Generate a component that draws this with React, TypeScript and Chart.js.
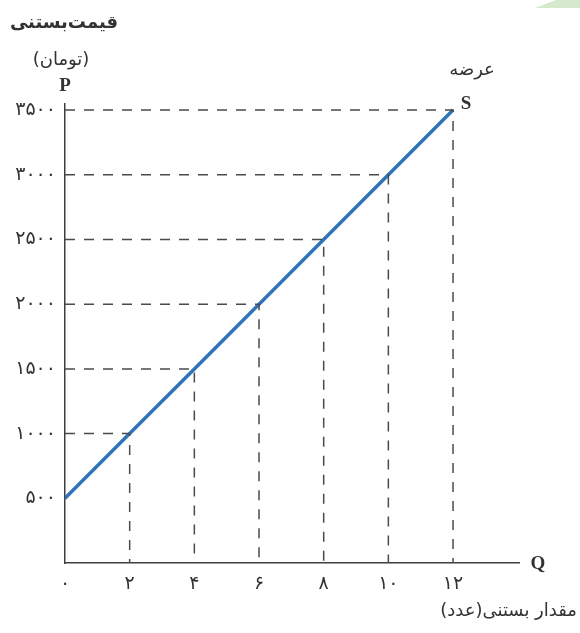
import React, { useEffect, useRef } from "react";
import { Chart, registerables } from "chart.js";

Chart.register(...registerables);

const quantities = [0, 2, 4, 6, 8, 10, 12];
const prices = [500, 1000, 1500, 2000, 2500, 3000, 3500];
const xTickValues = [0, 2, 4, 6, 8, 10, 12];
const xTickLabels = ["۰", "۲", "۴", "۶", "۸", "۱۰", "۱۲"];
const yTickValues = [500, 1000, 1500, 2000, 2500, 3000, 3500];
const yTickLabels = ["۵۰۰", "۱۰۰۰", "۱۵۰۰", "۲۰۰۰", "۲۵۰۰", "۳۰۰۰", "۳۵۰۰"];

const yTitleLine1 = "قیمت‌بستنی";
const yTitleLine2 = "(تومان)";
const xTitle = "مقدار بستنی(عدد)";
const curveLabel = "عرضه";

const TEXT = "#333333";
const AXIS = "#3f3f3f";
const DASH = "#4a4a4a";
const BLUE = "#2e74b8";

const textPlugin = {
  id: "texts",
  afterDraw(chart: any) {
    const ctx = chart.ctx;
    const xs = chart.scales.x;
    const ys = chart.scales.y;
    ctx.save();
    // decorative corner
    ctx.fillStyle = "#d6e9cd";
    ctx.beginPath();
    ctx.moveTo(535, 8);
    ctx.lineTo(556, 0);
    ctx.lineTo(580, 0);
    ctx.lineTo(580, 8);
    ctx.closePath();
    ctx.fill();

    ctx.fillStyle = TEXT;
    ctx.textAlign = "center";
    ctx.textBaseline = "middle";
    ctx.font = "bold 18px 'DejaVu Sans'";
    ctx.fillText(yTitleLine1, 64, 23);
    ctx.font = "18px 'DejaVu Sans'";
    ctx.fillText(yTitleLine2, 61, 60);
    ctx.font = "bold 19px 'Liberation Serif'";
    ctx.fillText("P", xs.left, 86);
    const lastQ = quantities[quantities.length - 1];
    const lastP = prices[prices.length - 1];
    ctx.fillText("S", xs.getPixelForValue(lastQ) + 13, ys.getPixelForValue(lastP) - 6);
    ctx.fillText("Q", xs.right + 19, ys.bottom + 1);
    ctx.font = "18px 'DejaVu Sans'";
    ctx.fillText(curveLabel, xs.getPixelForValue(lastQ) + 19, 70);
    ctx.textAlign = "right";
    ctx.font = "18px 'DejaVu Sans'";
    ctx.fillText(xTitle, 577, 611);
    ctx.restore();
  },
};

export default function App() {
  const ref = useRef<HTMLCanvasElement>(null);
  useEffect(() => {
    if (!ref.current) return;
    const supply = quantities.map((q, i) => ({ x: q, y: prices[i] }));
    const guides = quantities
      .map((q, i) => ({ q, p: prices[i] }))
      .filter((d) => d.q > 0)
      .map((d) => ({
        data: [
          { x: 0, y: d.p },
          { x: d.q, y: d.p },
          { x: d.q, y: 0 },
        ],
        borderColor: DASH,
        borderWidth: 1.5,
        borderDash: [10, 9],
        pointRadius: 0,
        showLine: true,
        fill: false,
      }));
    const chart = new Chart(ref.current, {
      type: "scatter",
      data: {
        datasets: [
          ...guides,
          {
            data: supply,
            borderColor: BLUE,
            borderWidth: 3.5,
            pointRadius: 0,
            showLine: true,
            fill: false,
          },
        ] as any,
      },
      options: {
        animation: false,
        responsive: false,
        layout: { padding: { left: 0, right: 61, top: 104, bottom: 0 } },
        plugins: { legend: { display: false }, tooltip: { enabled: false } },
        scales: {
          x: {
            type: "linear",
            min: 0,
            max: 14.04,
            grid: { display: false, drawTicks: false },
            border: { color: AXIS, width: 1.5 },
            afterBuildTicks: (s: any) => {
              s.ticks = xTickValues.map((v) => ({ value: v }));
            },
            afterFit: (s: any) => {
              s.height = 70;
            },
            ticks: {
              padding: 10,
              color: TEXT,
              font: { family: "'DejaVu Sans'", size: 19 },
              maxRotation: 0,
              autoSkip: false,
              callback: (v: any) => xTickLabels[xTickValues.indexOf(Number(v))] ?? "",
            },
          },
          y: {
            type: "linear",
            min: 0,
            max: 3547,
            grid: { display: false, drawTicks: false },
            border: { color: AXIS, width: 1.5 },
            afterBuildTicks: (s: any) => {
              s.ticks = yTickValues.map((v) => ({ value: v }));
            },
            afterFit: (s: any) => {
              s.width = 65;
            },
            ticks: {
              padding: 9,
              color: TEXT,
              font: { family: "'DejaVu Sans'", size: 19 },
              autoSkip: false,
              callback: (v: any) => yTickLabels[yTickValues.indexOf(Number(v))] ?? "",
            },
          },
        },
      },
      plugins: [textPlugin],
    });
    return () => chart.destroy();
  }, []);
  return (
    <div style={{ position: "fixed", left: 0, top: 0, width: 580, height: 633, background: "#fff" }}>
      <canvas ref={ref} width={580} height={633} />
    </div>
  );
}
